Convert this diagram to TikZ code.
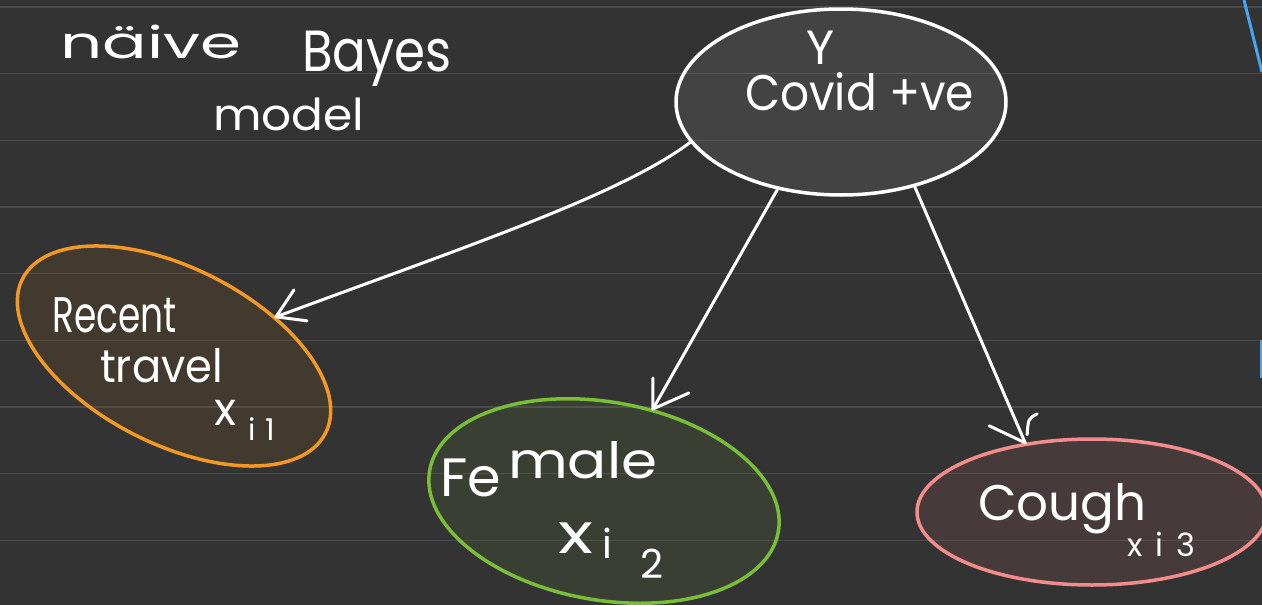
\documentclass[tikz,border=0pt]{standalone}
\usepackage{fontspec}
\usepackage{graphicx}
\setmainfont{Poppins}
\usetikzlibrary{shapes.geometric,calc}

\definecolor{board}{HTML}{333333}
\definecolor{penorange}{RGB}{243,152,35}
\definecolor{pengreen}{RGB}{120,190,55}
\definecolor{penpink}{RGB}{245,140,140}
\definecolor{penblue}{RGB}{70,165,245}
\definecolor{tintorange}{RGB}{158,98,24}
\definecolor{tintgreen}{RGB}{104,138,58}
\definecolor{tintpink}{RGB}{184,104,104}

\newcommand\hsz[1]{\fontsize{#1}{#1}\selectfont}

\tikzset{
  hand/.style={text=white, inner sep=0pt, anchor=base west},
  wire/.style={draw=white, line width=3pt, line cap=round, line join=round},
  bubble/.style={ellipse, inner sep=0pt, line width=3.5pt},
  ruling/.style={draw=white, draw opacity=0.12, line width=1.5pt}
}

\begin{document}
\begin{tikzpicture}[x=1pt, y=-1pt]
  % page
  \useasboundingbox (0,0) rectangle (1262,605);
  \fill[board] (0,0) rectangle (1262,605);

  % ruled paper
  \foreach \k in {0,...,8}
    \draw[ruling] (0,{7+66.67*\k}) -- (1262,{7+66.67*\k});

  % variables
  \node[bubble, draw=white, fill=white, fill opacity=0.08,
        minimum width=330pt, minimum height=186pt] (covid) at (841,102) {};
  \node[bubble, draw=penorange, fill=tintorange, fill opacity=0.15, rotate=-27,
        minimum width=340pt, minimum height=176pt] (travel) at (174,356) {};
  \node[bubble, draw=pengreen, fill=tintgreen, fill opacity=0.15, rotate=-10,
        minimum width=354pt, minimum height=198pt] (female) at (604,501) {};
  \node[bubble, draw=penpink, fill=tintpink, fill opacity=0.15,
        minimum width=350pt, minimum height=146pt] (cough) at (1092,512) {};

  % title
  \node[hand] (naive) at (60,58) {\hsz{44}\scalebox{1.5}[1]{näive}};
  \node[hand] (bayes) at (302,71) {\hsz{58}\scalebox{0.86}[1]{Bayes}};
  \node[hand] (model) at (213,130) {\hsz{44}\scalebox{1.07}[1]{model}};

  % labels
  \node[hand] (ylab) at (806,64) {\hsz{48}Y};
  \node[hand] (covidlab) at (745,110) {\hsz{50}\scalebox{0.91}[1]{Covid +ve}};

  \node[hand] (recent) at (52,332) {\hsz{50}\scalebox{0.72}[1]{Recent}};
  \node[hand] (travellab) at (100,382) {\hsz{46}\scalebox{0.94}[1]{travel}};
  \node[hand] (x1) at (214,425) {\hsz{46}x};
  \node[hand] (i1) at (248,440) {\hsz{30}i\hspace{10pt}1};

  \node[hand] (fe) at (440,496) {\hsz{54}Fe};
  \node[hand] (male) at (508,478) {\hsz{50}\scalebox{1.16}[1]{male}};
  \node[hand] (x2) at (558,553) {\hsz{56}\scalebox{1.3}[1]{x}};
  \node[hand] (i2) at (602,558) {\hsz{40}i};
  \node[hand] (n2) at (640,578) {\hsz{40}2};

  \node[hand] (coughlab) at (978,520) {\hsz{50}Cough};
  \node[hand] (x3) at (1127,556) {\hsz{32}x\hspace{13pt}i\hspace{13pt}3};

  % dependencies
  \draw[wire] (covid.195) .. controls (620,195) and (470,245) .. (travel.48)
    coordinate (tipA);
  \draw[wire] ($(tipA)+(18,-27)$) -- (tipA) -- ($(tipA)+(31,4)$);

  \draw[wire] (covid.234) -- (female.72) coordinate (tipB);
  \draw[wire] ($(tipB)+(0,-31)$) -- (tipB) -- ($(tipB)+(36,-16)$);

  \draw[wire] (covid.311) -- (cough.134) coordinate (tipC);
  \draw[wire] ($(tipC)+(-36,-17)$) -- (tipC);
  \draw[wire] ($(tipC)+(2,-8)$) .. controls ($(tipC)+(3,-24)$) .. ($(tipC)+(12,-29)$);

  % margin strokes
  \draw[penblue, line width=3pt] (1244,0) -- (1262,72);
  \draw[penblue, line width=2pt] (1261,340) -- (1261,378);
\end{tikzpicture}
\end{document}
